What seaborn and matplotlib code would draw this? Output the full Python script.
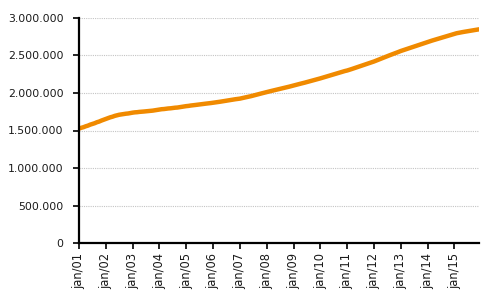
import matplotlib
matplotlib.use("Agg")
import matplotlib.pyplot as plt
import matplotlib.ticker as mticker
import seaborn as sns
import pandas as pd
import numpy as np

# Monthly values (thousands), Jan 2001 .. Dec 2015
y2001 = [1525, 1536, 1544, 1556, 1565, 1578, 1588, 1597, 1610, 1619, 1632, 1643]
y2002 = [1655, 1664, 1676, 1684, 1695, 1703, 1710, 1715, 1719, 1724, 1727, 1733]
y2003 = [1738, 1742, 1744, 1748, 1750, 1753, 1756, 1758, 1762, 1765, 1770, 1774]
y2004 = [1780, 1784, 1786, 1790, 1794, 1796, 1800, 1804, 1806, 1811, 1815, 1820]
y2005 = [1825, 1828, 1833, 1836, 1840, 1844, 1847, 1851, 1855, 1859, 1862, 1866]
y2006 = [1870, 1874, 1879, 1883, 1888, 1892, 1897, 1902, 1907, 1913, 1917, 1921]
y2007 = [1925, 1932, 1938, 1945, 1951, 1958, 1966, 1974, 1982, 1990, 1997, 2004]
y2008 = [2012, 2020, 2027, 2034, 2041, 2048, 2055, 2062, 2069, 2076, 2084, 2092]
y2009 = [2100, 2108, 2115, 2123, 2130, 2138, 2146, 2154, 2162, 2170, 2178, 2186]
y2010 = [2195, 2204, 2213, 2222, 2231, 2240, 2249, 2258, 2267, 2276, 2285, 2293]
y2011 = [2300, 2309, 2319, 2329, 2339, 2349, 2359, 2369, 2379, 2389, 2399, 2410]
y2012 = [2420, 2432, 2443, 2455, 2467, 2479, 2491, 2503, 2514, 2526, 2537, 2548]
y2013 = [2560, 2570, 2580, 2591, 2601, 2611, 2621, 2631, 2641, 2651, 2661, 2670]
y2014 = [2680, 2690, 2699, 2708, 2718, 2727, 2736, 2745, 2754, 2763, 2772, 2781]
y2015 = [2790, 2797, 2803, 2808, 2814, 2819, 2824, 2829, 2834, 2839, 2844, 2849]

tick_labels = ["jan/01", "jan/02", "jan/03", "jan/04", "jan/05", "jan/06", "jan/07",
               "jan/08", "jan/09", "jan/10", "jan/11", "jan/12", "jan/13", "jan/14", "jan/15"]
y_ticks = [0, 500000, 1000000, 1500000, 2000000, 2500000, 3000000]

years = [y2001, y2002, y2003, y2004, y2005, y2006, y2007, y2008,
         y2009, y2010, y2011, y2012, y2013, y2014, y2015]
values = [v * 1000 for yr in years for v in yr]
df = pd.DataFrame({"month": np.arange(len(values)), "value": values})

sns.set_style("white")
plt.rcParams["font.family"] = ["DejaVu Sans"]

fig = plt.figure(figsize=(4.97, 2.98), dpi=100)
ax = fig.add_axes([79 / 497, 1 - 243 / 298, (479 - 79) / 497, (243 - 18) / 298])

ax.yaxis.grid(True, linestyle=(0, (1, 1)), color="#c4c4c4", linewidth=0.8)
ax.set_axisbelow(True)

sns.lineplot(data=df, x="month", y="value", ax=ax, color="#F08A00",
             linewidth=3.2, solid_capstyle="round")

ax.set_xlim(0, len(values) - 1)
ax.set_ylim(0, 3000000)
ax.set_yticks(y_ticks)
ax.yaxis.set_major_formatter(mticker.FuncFormatter(
    lambda v, p: f"{int(v):,}".replace(",", ".")))
ax.set_xticks(np.arange(len(tick_labels)) * 12)
ax.set_xticklabels(tick_labels, rotation=90)
ax.set_xlabel("")
ax.set_ylabel("")

for s in ["top", "right"]:
    ax.spines[s].set_visible(False)
for s in ["left", "bottom"]:
    ax.spines[s].set_color("black")
    ax.spines[s].set_linewidth(1.6)

ax.tick_params(axis="y", which="major", direction="out", length=4, width=1.2,
               color="black", labelsize=7.8, pad=7, left=True)
ax.tick_params(axis="x", which="major", direction="out", length=4, width=1.2,
               color="black", labelsize=8.3, pad=3, bottom=True)
for t in ax.get_yticklabels() + ax.get_xticklabels():
    t.set_color("#1a1a1a")

fig.savefig("out.png", dpi=100, facecolor="white")
